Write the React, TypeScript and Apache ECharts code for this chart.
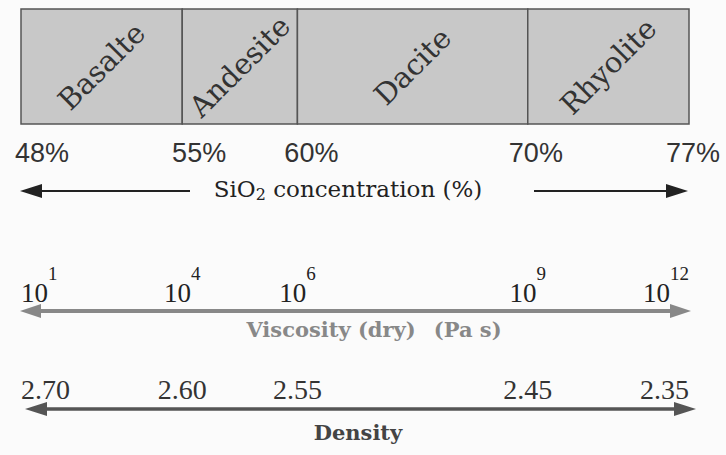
import React, { useEffect, useRef } from "react";
import * as echarts from "echarts";

const SIO2_TICKS = [48, 55, 60, 70, 77];
const PERCENT_LABELS = ["48%", "55%", "60%", "70%", "77%"];
const ROCKS = ["Basalte", "Andesite", "Dacite", "Rhyolite"];
const ROCK_START = [48, 55, 60, 70];
const ROCK_END = [55, 60, 70, 77];
const VISCOSITY_EXP = ["1", "4", "6", "9", "12"];
const DENSITY = ["2.70", "2.60", "2.55", "2.45", "2.35"];

const SERIF = "DejaVu Serif";
const TIMES = "Liberation Serif";
const SANS = "Liberation Sans";

export default function App() {
  const ref = useRef<HTMLDivElement>(null);
  useEffect(() => {
    if (!ref.current) return;
    const chart = echarts.init(ref.current, null, { renderer: "svg" });
    const idx = (v: number) => SIO2_TICKS.indexOf(v);
    const hidden = {
      axisLine: { show: false },
      axisTick: { show: false },
      splitLine: { show: false },
    };
    const arrow = (x1: number, x2: number, y: number, color: string, lw: number, head: number, half: number) => [
      { type: "line", shape: { x1: x1 + head - 2, y1: y, x2: x2 - head + 2, y2: y }, style: { stroke: color, lineWidth: lw } },
      { type: "polygon", shape: { points: [[x1, y], [x1 + head, y - half], [x1 + head, y + half]] }, style: { fill: color } },
      { type: "polygon", shape: { points: [[x2, y], [x2 - head, y - half], [x2 - head, y + half]] }, style: { fill: color } },
    ];
    const option: any = {
      animation: false,
      backgroundColor: "#fbfbfb",
      grid: [
        { left: 21, right: 37, top: 9, height: 115 },
        { left: 42, right: 33, top: 100, height: 39 },
      ],
      xAxis: [
        { gridIndex: 0, type: "value", min: 48, max: 77, ...hidden, axisLabel: { show: false } },
        {
          gridIndex: 0, type: "value", min: 48, max: 77, position: "bottom", offset: 140, ...hidden,
          axisLabel: {
            customValues: SIO2_TICKS, margin: 0, alignMinLabel: "left", alignMaxLabel: "right",
            formatter: (v: number) => `{b|10}{s|${VISCOSITY_EXP[idx(v)]}}`,
            rich: {
              b: { fontFamily: TIMES, fontSize: 27, lineHeight: 57, color: "#222", verticalAlign: "middle" },
              s: { fontFamily: TIMES, fontSize: 19, lineHeight: 15, color: "#222", verticalAlign: "top" },
            },
          },
        },
        {
          gridIndex: 0, type: "value", min: 48, max: 77, position: "bottom", offset: 251, ...hidden,
          axisLabel: {
            customValues: SIO2_TICKS, margin: 0, alignMinLabel: "left", alignMaxLabel: "right",
            formatter: (v: number) => DENSITY[idx(v)],
            fontFamily: TIMES, fontSize: 28, lineHeight: 28, color: "#333",
          },
        },
        {
          gridIndex: 1, type: "value", min: 48, max: 77, position: "bottom", ...hidden,
          axisLabel: {
            customValues: SIO2_TICKS, margin: 0,
            formatter: (v: number) => PERCENT_LABELS[idx(v)],
            fontFamily: SANS, fontSize: 27, lineHeight: 27, color: "#333",
          },
        },
      ],
      yAxis: [
        { gridIndex: 0, type: "value", min: 0, max: 1, show: false },
        { gridIndex: 1, type: "value", min: 0, max: 1, show: false },
      ],
      series: [
        {
          type: "custom",
          xAxisIndex: 0,
          yAxisIndex: 0,
          data: ROCKS.map((r, i) => [ROCK_START[i], ROCK_END[i]]),
          renderItem: (params: any, api: any) => {
            const p0 = api.coord([api.value(0), 1]);
            const p1 = api.coord([api.value(1), 0]);
            const x = p0[0], y = p0[1], w = p1[0] - p0[0], h = p1[1] - p0[1];
            return {
              type: "group",
              children: [
                { type: "rect", shape: { x, y, width: w, height: h }, style: { fill: "#c8c8c8", stroke: "#555", lineWidth: 1.5 } },
                {
                  type: "text", x: x + w / 2, y: y + h / 2, rotation: Math.PI / 4,
                  style: { text: ROCKS[params.dataIndex], fontFamily: SERIF, fontSize: 29, fill: "#333", align: "center", verticalAlign: "middle" },
                },
              ],
            };
          },
        },
      ],
      graphic: [
        ...arrow(20, 688, 191, "#222", 2, 22, 7),
        ...arrow(20, 691, 311, "#888", 4, 21, 7),
        ...arrow(25, 696, 409, "#555", 3.5, 22, 7),
        { type: "rect", shape: { x: 190, y: 175, width: 344, height: 30 }, style: { fill: "#fbfbfb" } },
        {
          type: "text", x: 348, y: 189,
          style: {
            text: "SiO{sub|2} concentration (%)", fontFamily: SERIF, fontSize: 23, fill: "#222", align: "center", verticalAlign: "middle",
            rich: { sub: { fontFamily: SERIF, fontSize: 16, fill: "#222", padding: [10, 0, 0, 0] } },
          },
        },
        {
          type: "text", x: 374, y: 329,
          style: {
            text: "Viscosity (dry){g| }(Pa s)", fontFamily: SERIF, fontWeight: "bold", fontSize: 21, fill: "#888", align: "center", verticalAlign: "middle",
            rich: { g: { width: 18 } },
          },
        },
        {
          type: "text", x: 358, y: 432,
          style: { text: "Density", fontFamily: SERIF, fontWeight: "bold", fontSize: 21, fill: "#444", align: "center", verticalAlign: "middle" },
        },
      ],
    };
    chart.setOption(option);
    return () => chart.dispose();
  }, []);
  return <div ref={ref} style={{ width: 726, height: 455, position: "absolute", left: 0, top: 0 }} />;
}
